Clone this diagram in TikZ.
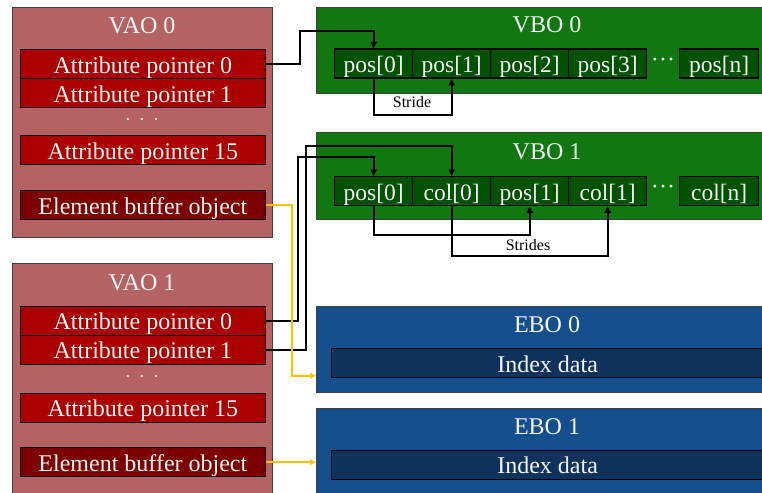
\documentclass[tikz,border=0pt]{standalone}
\usepackage{fontspec}
\setmainfont{Liberation Serif}
\usetikzlibrary{arrows.meta}
\definecolor{vaobg}{RGB}{180,98,98}
\definecolor{apfill}{RGB}{170,0,0}
\definecolor{ebfill}{RGB}{125,0,0}
\definecolor{vbobg}{RGB}{17,119,17}
\definecolor{cellfill}{RGB}{0,82,0}
\definecolor{ebobg}{RGB}{20,78,140}
\definecolor{idxfill}{RGB}{14,50,92}
\definecolor{txt}{RGB}{245,245,245}
\definecolor{orangeline}{RGB}{255,192,0}
\begin{document}
\begin{tikzpicture}[x=1pt,y=-1pt,
  container/.style={draw=black!75, line width=1.3pt, inner sep=0pt, anchor=north west},
  vaobox/.style={container, fill=vaobg},
  vbobox/.style={container, fill=vbobg},
  ebobox/.style={container, fill=ebobg},
  title/.style={text=txt, font=\fontsize{24}{24}\selectfont, inner sep=0pt, anchor=base},
  item/.style={draw=black, line width=1.3pt, inner sep=0pt, text=txt,
    font=\fontsize{24}{24}\selectfont, text height=18pt, text depth=0pt,
    anchor=north west, minimum height=29pt},
  apitem/.style={item, fill=apfill, minimum width=245.5pt},
  ebitem/.style={item, fill=ebfill, minimum width=245.5pt},
  cell/.style={item, fill=cellfill, minimum width=78pt, font=\fontsize{23.5}{23.5}\selectfont},
  idx/.style={item, fill=idxfill, minimum width=432pt},
  vdots/.style={text=txt, font=\fontsize{9}{9}\selectfont, inner sep=0pt},
  dotsnode/.style={text=txt, font=\fontsize{24}{24}\selectfont, inner sep=0pt},
  lab/.style={text=black, font=\fontsize{16}{16}\selectfont, inner sep=0pt, anchor=base},
  conn/.style={draw=black, line width=2pt, -{Triangle[length=6.5pt,width=6pt]}},
  oconn/.style={draw=orangeline, line width=1.8pt, -{Triangle[length=6pt,width=5.5pt]}},
]
\useasboundingbox (0,0) rectangle (762,492);
\clip (0,0) rectangle (762,492);

% VAO 0
\node[vaobox, minimum width=260pt, minimum height=230pt] (vao0) at (12,7) {};
\node[title] (vao0t) at (142,33.3) {VAO 0};
\node[apitem] (a0p0) at (19.5,49) {Attribute pointer 0};
\node[apitem] (a0p1) at (19.5,78) {Attribute pointer 1};
\node[vdots] (a0dots) at (142,120) {•\hspace{11pt}•\hspace{11pt}•};
\node[apitem] (a0p15) at (19.5,135) {Attribute pointer 15};
\node[ebitem] (a0eb) at (19.5,190) {Element buffer object};

% VAO 1
\node[vaobox, minimum width=260pt, minimum height=240pt] (vao1) at (12,263) {};
\node[title] (vao1t) at (142,290.5) {VAO 1};
\node[apitem] (a1p0) at (19.5,305.5) {Attribute pointer 0};
\node[apitem] (a1p1) at (19.5,334.5) {Attribute pointer 1};
\node[vdots] (a1dots) at (142,377.5) {•\hspace{11pt}•\hspace{11pt}•};
\node[apitem] (a1p15) at (19.5,392.5) {Attribute pointer 15};
\node[ebitem] (a1eb) at (19.5,447) {Element buffer object};

% VBO 0
\node[vbobox, minimum width=462pt, minimum height=86pt] (vbo0) at (316,7) {};
\node[title] (vbo0t) at (547,33) {VBO 0};
\node[cell] (v0p0) at (334,48.5) {pos[0]};
\node[cell] (v0p1) at (412,48.5) {pos[1]};
\node[cell] (v0p2) at (490,48.5) {pos[2]};
\node[cell] (v0p3) at (568,48.5) {pos[3]};
\node[dotsnode] (v0dots) at (663,62.5) {·\kern0.2pt·\kern0.2pt·};
\node[cell, minimum width=79pt] (v0pn) at (679,48.5) {pos[n]};

% VBO 1
\node[vbobox, minimum width=462pt, minimum height=87pt] (vbo1) at (316,132) {};
\node[title] (vbo1t) at (547,159) {VBO 1};
\node[cell] (v1p0) at (334,176) {pos[0]};
\node[cell] (v1c0) at (412,176) {col[0]};
\node[cell] (v1p1) at (490,176) {pos[1]};
\node[cell] (v1c1) at (568,176) {col[1]};
\node[dotsnode] (v1dots) at (663,190) {·\kern0.2pt·\kern0.2pt·};
\node[cell, minimum width=79pt] (v1cn) at (679,176) {col[n]};

% EBO 0
\node[ebobox, minimum width=462pt, minimum height=86pt] (e0) at (316,306) {};
\node[title] (e0t) at (547,332.7) {EBO 0};
\node[idx] (e0i) at (331,348) {Index data};

% EBO 1
\node[ebobox, minimum width=462pt, minimum height=100pt] (e1) at (316,408) {};
\node[title] (e1t) at (547,434.3) {EBO 1};
\node[idx] (e1i) at (331,449.5) {Index data};

% connectors VAO 0 -> VBO 0
\draw[conn] (a0p0.east) -| (300,31) -| (v0p0.north);
\draw[conn] (v0p0.south) -- ++(0,36) -| (v0p1.south);
\node[lab] (stridelab) at (412,107.3) {Stride};

% connectors VAO 1 -> VBO 1
\draw[conn] (a1p0.east) -| (298,157) -| (v1p0.north);
\draw[conn] (a1p1.east) -| (306,146) -| (v1c0.north);
\draw[conn] (v1p0.south) -- ++(0,28.5) -| (v1p1.south);
\draw[conn] (v1c0.south) -- ++(0,50) -| (v1c1.south);
\node[lab] (strideslab) at (528,250) {Strides};

% element buffer connectors
\draw[oconn] (a0eb.east) -- ++(26,0) |- ([yshift=-26pt]e0.west);
\draw[oconn] (a1eb.east) -- (a1eb.east -| e1.west);
\end{tikzpicture}
\end{document}
